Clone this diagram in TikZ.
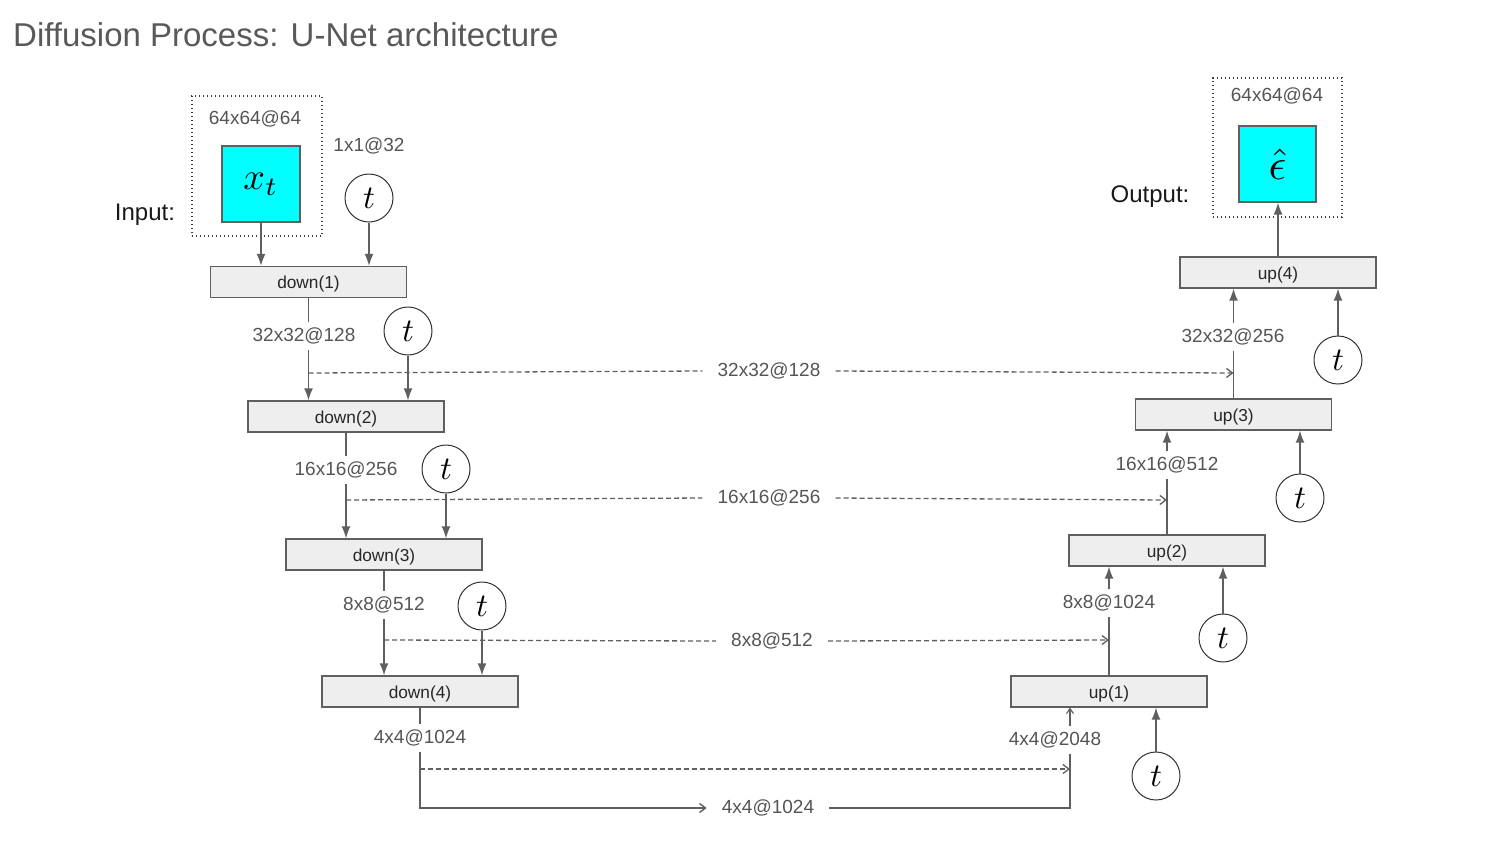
\documentclass[tikz,border=0pt]{standalone}
\usepackage{fontspec}
\setmainfont{Liberation Sans}
\usetikzlibrary{arrows.meta}
\definecolor{lin}{HTML}{5F5F5F}
\definecolor{txt}{HTML}{555555}
\definecolor{ttl}{HTML}{595959}
\definecolor{boxfill}{HTML}{EEEEEE}
\definecolor{cyanf}{HTML}{00FFFF}
\newcommand{\tsym}{\scalebox{3.3}{$t$}}
\begin{document}
\begin{tikzpicture}[x=1pt,y=-1pt,
  blk/.style={draw=lin, line width=1.3pt, fill=boxfill, minimum width=196pt, minimum height=31pt, inner sep=0pt, text height=13pt, text depth=-1pt, font=\fontsize{17.3}{19}\selectfont, text=black!85},
  lbl/.style={inner xsep=2pt, inner ysep=6pt, text=txt, font=\fontsize{19}{21}\selectfont},
  midlbl/.style={inner xsep=15pt, inner ysep=4pt, text=txt, font=\fontsize{19}{21}\selectfont},
  tnode/.style={circle, draw=black!80, line width=1pt, fill=white, minimum size=48pt, inner sep=0pt, font=\normalsize},
  img/.style={draw=lin, line width=1.2pt, fill=cyanf, minimum width=78pt, minimum height=76pt, inner sep=0pt, font=\normalsize},
  dotbox/.style={draw=black!75, line width=1.2pt, dash pattern=on 1.2pt off 2.8pt, inner sep=0pt},
  arr/.style={draw=lin, line width=1.4pt, -{Latex[length=12pt,width=9pt]}},
  ln/.style={draw=lin, line width=1.4pt},
  skipline/.style={draw=lin, line width=1.3pt, dash pattern=on 5pt off 3pt},
  barb/.style={-{Straight Barb[length=6pt,width=9pt]}},
  io/.style={text=black!90, font=\fontsize{24}{26}\selectfont},
]
\path[use as bounding box] (0,0) rectangle (1500,844);

% title
\node[anchor=west, text=ttl, font=\fontsize{33}{36}\selectfont, inner sep=0pt] (title) at (13,35) {Diffusion Process: U-Net architecture};

% input
\node[dotbox, minimum width=130pt, minimum height=140pt] (infr) at (257,166) {};
\node[lbl] (insz) at (255,119) {64x64@64};
\node[img] (xt) at (261,184) {\raisebox{5pt}{\scalebox{3.8}{$x_t$}}};
\node[io] (inlbl) at (145,215) {Input:};
\node[lbl] (tsz) at (369,146) {1x1@32};
\node[tnode] (t0) at (369,198) {\tsym};

% output
\node[dotbox, minimum width=129pt, minimum height=139pt] (outfr) at (1277.5,147.5) {};
\node[lbl] (outsz) at (1277,96) {64x64@64};
\node[img, minimum width=77pt] (eps) at (1277.5,164) {\scalebox{4.4}{$\hat{\epsilon}$}};
\node[io] (outlbl) at (1150,197) {Output:};

% blocks
\node[blk] (d1) at (308.5,282) {down(1)};
\node[blk] (d2) at (346,416.5) {down(2)};
\node[blk] (d3) at (384,554.5) {down(3)};
\node[blk] (d4) at (420,691.5) {down(4)};
\node[blk] (u1) at (1109,691.5) {up(1)};
\node[blk] (u2) at (1167,550.5) {up(2)};
\node[blk] (u3) at (1233.5,414.5) {up(3)};
\node[blk] (u4) at (1278,272.5) {up(4)};

% time nodes
\node[tnode] (t1) at (408,331) {\tsym};
\node[tnode] (t2) at (446,469) {\tsym};
\node[tnode] (t3) at (482,606) {\tsym};
\node[tnode] (tu1) at (1156,776) {\tsym};
\node[tnode] (tu2) at (1223,638) {\tsym};
\node[tnode] (tu3) at (1300,498) {\tsym};
\node[tnode] (tu4) at (1338,360) {\tsym};

% labels
\node[lbl] (l1) at (304,336) {32x32@128};
\node[lbl] (l2) at (346,470) {16x16@256};
\node[lbl] (l3) at (384,605) {8x8@512};
\node[lbl] (l4) at (420,738) {4x4@1024};
\node[lbl] (r1) at (1055,740) {4x4@2048};
\node[lbl] (r2) at (1109,603) {8x8@1024};
\node[lbl] (r3) at (1167,465) {16x16@512};
\node[lbl] (r4) at (1233,337) {32x32@256};
\node[midlbl] (m1) at (769,371) {32x32@128};
\node[midlbl] (m2) at (769,498) {16x16@256};
\node[midlbl] (m3) at (772,641) {8x8@512};
\node[midlbl] (m4) at (768,808) {4x4@1024};

\coordinate (s1) at (0,373);
\coordinate (s2) at (0,500);
\coordinate (s3) at (0,640);
\coordinate (s4) at (0,769);
\coordinate (cj) at (1070,808);

% input arrows
\draw[arr] (xt.south) -- (xt.south |- d1.north);
\draw[arr] (t0) -- (t0 |- d1.north);

% down path
\draw[ln] (d1.south) -- (d1.south |- l1.north);
\draw[arr] (d1.south |- l1.south) -- (d1.south |- d2.north);
\draw[ln] (d2.south) -- (d2.south |- l2.north);
\draw[arr] (d2.south |- l2.south) -- (d2.south |- d3.north);
\draw[ln] (d3.south) -- (d3.south |- l3.north);
\draw[arr] (d3.south |- l3.south) -- (d3.south |- d4.north);
\draw[ln] (d4.south) -- (d4.south |- l4.north);
\draw[arr] (t1) -- (t1 |- d2.north);
\draw[arr] (t2) -- (t2 |- d3.north);
\draw[arr] (t3) -- (t3 |- d4.north);

% bottom
\draw[ln, barb] (l4.south) |- (m4.west);
\draw[ln] (m4.east) -- (cj) -- (cj |- r1.south);
\draw[draw=lin, line width=1.1pt, -{Straight Barb[length=5pt,width=7pt]}] (cj |- r1.north) -- (cj |- u1.south);
\draw[skipline, barb] (d4.south |- s4) -- (cj |- s4);

% skip connections
\draw[skipline] (d1.south |- s1) -- (m1.west);
\draw[skipline, barb] (m1.east) -- (u3.north |- s1);
\draw[skipline] (d2.south |- s2) -- (m2.west);
\draw[skipline, barb] (m2.east) -- (u2.north |- s2);
\draw[skipline] (d3.south |- s3) -- (m3.west);
\draw[skipline, barb] (m3.east) -- (u1.north |- s3);

% up path
\draw[ln] (u1.north) -- (u1.north |- r2.south);
\draw[arr] (u1.north |- r2.north) -- (u1.north |- u2.south);
\draw[ln] (u2.north) -- (u2.north |- r3.south);
\draw[arr] (u2.north |- r3.north) -- (u2.north |- u3.south);
\draw[ln] (u3.north) -- (u3.north |- r4.south);
\draw[arr] (u3.north |- r4.north) -- (u3.north |- u4.south);
\draw[arr] (u4.north) -- (u4.north |- eps.south);
\draw[arr] (tu1) -- (tu1 |- u1.south);
\draw[arr] (tu2) -- (tu2 |- u2.south);
\draw[arr] (tu3) -- (tu3 |- u3.south);
\draw[arr] (tu4) -- (tu4 |- u4.south);
\end{tikzpicture}
\end{document}
